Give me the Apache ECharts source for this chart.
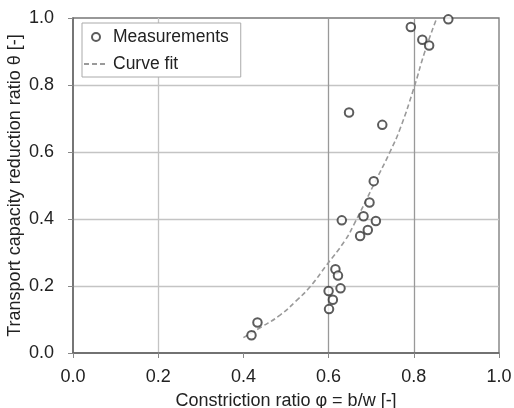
<!DOCTYPE html>
<html>
<head>
<meta charset="utf-8">
<script src="https://cdn.jsdelivr.net/npm/echarts@6/dist/echarts.min.js"></script>
<style>
  html, body { margin: 0; padding: 0; background: #fff; }
  #chart { width: 514px; height: 408px; }
</style>
</head>
<body>
<div id="chart"></div>
<script>
// measured points (phi, theta)
const measX = [0.419, 0.433, 0.600, 0.610, 0.601, 0.616, 0.622, 0.628, 0.631, 0.674, 0.692,
               0.682, 0.711, 0.696, 0.706, 0.648, 0.726, 0.793, 0.820, 0.836, 0.881];
const measY = [0.053, 0.091, 0.185, 0.159, 0.131, 0.250, 0.231, 0.193, 0.396, 0.349, 0.367,
               0.408, 0.394, 0.449, 0.513, 0.718, 0.681, 0.973, 0.935, 0.918, 0.996];

// curve fit
const fitX = [0.400, 0.440, 0.486, 0.525, 0.556, 0.595, 0.638, 0.660, 0.705, 0.744, 0.768, 0.800, 0.826, 0.854];
const fitY = [0.046, 0.076, 0.113, 0.157, 0.197, 0.262, 0.335, 0.385, 0.500, 0.600, 0.670, 0.790, 0.900, 1.000];

const xTicks = [0.0, 0.2, 0.4, 0.6, 0.8, 1.0];
const yTicks = [0.0, 0.2, 0.4, 0.6, 0.8, 1.0];

const FONT = "Liberation Sans";
const TEXT = "#222";

const chart = echarts.init(document.getElementById("chart"), null, { renderer: "canvas" });

chart.setOption({
  backgroundColor: "#fff",
  animation: false,
  textStyle: { fontFamily: FONT },
  grid: {
    left: 73, right: 15, top: 18, bottom: 55,
    outerBoundsMode: "none",
    containLabel: false,
    show: true, borderColor: "#777", borderWidth: 1.3, backgroundColor: "transparent",
  },
  legend: {
    orient: "vertical",
    left: 82, top: 23,
    padding: [5, 12, 4, 1],
    itemGap: 9,
    itemWidth: 24, itemHeight: 8,
    backgroundColor: "#fff",
    borderColor: "#aaa", borderWidth: 1,
    textStyle: { fontFamily: FONT, fontSize: 17.5, color: TEXT },
    data: [
      { name: "Measurements" },
      { name: "Curve fit", itemStyle: { opacity: 0 } },
    ],
  },
  xAxis: {
    type: "value",
    min: xTicks[0], max: xTicks[xTicks.length - 1], interval: 0.2,
    name: "Constriction ratio φ = b/w [-]",
    nameLocation: "middle", nameGap: 39,
    nameMoveOverlap: false,
    nameTextStyle: { fontFamily: FONT, fontSize: 18, color: TEXT },
    axisLine: { lineStyle: { color: "#666", width: 1.5 } },
    axisTick: { show: true, length: 5, lineStyle: { color: "#888" } },
    axisLabel: { fontFamily: FONT, fontSize: 18, color: TEXT, margin: 15, formatter: v => v.toFixed(1) },
    splitLine: {
      show: true, showMinLine: false, showMaxLine: false,
      lineStyle: { color: ["#c4c4c4", "rgba(0,0,0,0)", "#999", "#999"], width: 1.3 },
    },
  },
  yAxis: {
    type: "value",
    min: yTicks[0], max: yTicks[yTicks.length - 1], interval: 0.2,
    name: "Transport capacity reduction ratio θ [-]",
    nameLocation: "middle", nameGap: 49,
    nameMoveOverlap: false,
    nameTextStyle: { fontFamily: FONT, fontSize: 18, color: TEXT },
    axisLine: { show: true, lineStyle: { color: "#666", width: 1.5 } },
    axisTick: { show: true, length: 5, lineStyle: { color: "#888" } },
    axisLabel: { fontFamily: FONT, fontSize: 18, color: TEXT, margin: 19, formatter: v => v.toFixed(1) },
    splitLine: {
      show: true, showMinLine: false, showMaxLine: false,
      lineStyle: { color: "#c4c4c4", width: 1.3 },
    },
  },
  series: [
    {
      name: "Curve fit",
      type: "line",
      smooth: true,
      symbol: "none",
      lineStyle: { color: "#9a9a9a", width: 1.6, type: [5, 3] },
      itemStyle: { color: "#9a9a9a" },
      data: fitX.map((x, i) => [x, fitY[i]]),
      z: 2,
    },
    {
      name: "Measurements",
      type: "scatter",
      symbol: "emptyCircle",
      symbolSize: 8.5,
      itemStyle: { color: "#333", borderColor: "#333", borderWidth: 1.1 },
      data: measX.map((x, i) => [x, measY[i]]),
      z: 3,
    },
  ],
});
</script>
</body>
</html>
